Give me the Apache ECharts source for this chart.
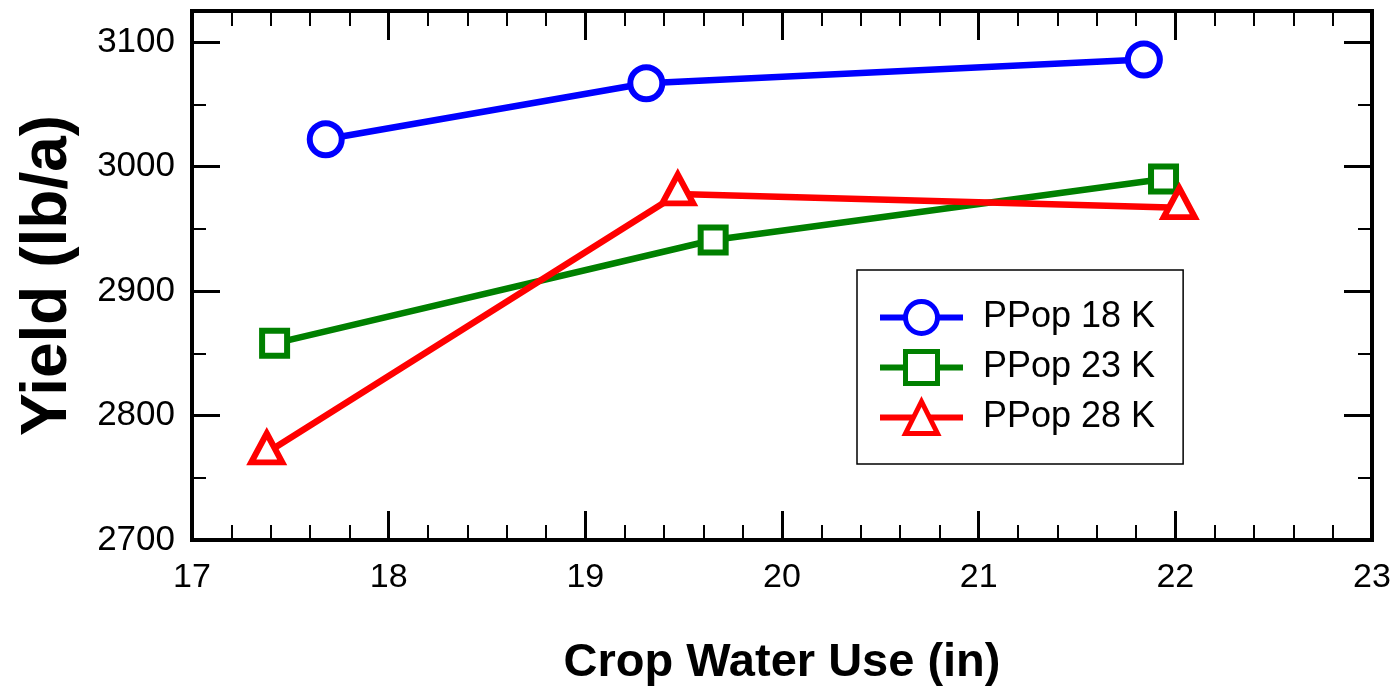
<!DOCTYPE html>
<html>
<head>
<meta charset="utf-8">
<script src="https://cdn.jsdelivr.net/npm/echarts@6/dist/echarts.min.js"></script>
<style>
  html, body { margin: 0; padding: 0; background: #fff; }
  #main { width: 1395px; height: 692px; }
</style>
</head>
<body>
<div id="main"></div>
<script>
// data
var seriesNames = ['PPop 18 K', 'PPop 23 K', 'PPop 28 K'];
var pop18 = [[17.68, 3022], [19.31, 3067], [21.84, 3086]];
var pop23 = [[17.42, 2858], [19.65, 2941], [21.94, 2990]];
var pop28 = [[17.38, 2770], [19.47, 2978], [22.02, 2967]];

var FONT = '"Liberation Sans", Arial, sans-serif';

function mkSeries(name, data, color, symbol, size, offset) {
  return {
    name: name,
    type: 'line',
    data: data,
    symbol: symbol,
    symbolSize: size,
    symbolOffset: offset || [0, 0],
    showAllSymbol: true,
    lineStyle: { color: color, width: 6.5 },
    itemStyle: { color: '#fff', borderColor: color, borderWidth: 6 },
    emphasis: { disabled: true },
    z: 3
  };
}

(function(){
  var opt = {
    animation: false,
    textStyle: { fontFamily: FONT },
    grid: {
      left: 192, right: 23, top: 11, bottom: 149,
      show: true, borderColor: '#000', borderWidth: 4
    },
    legend: {
      orient: 'vertical',
      left: 857, top: 270,
      padding: [29, 28, 28, 20],
      itemWidth: 83, itemHeight: 40, itemGap: 13,
      borderColor: '#000', borderWidth: 1.5,
      backgroundColor: '#fff',
      itemStyle: { borderWidth: 5 },
      lineStyle: { width: 6 },
      data: seriesNames,
      textStyle: { fontSize: 36, color: '#000', fontFamily: FONT, padding: [0, 0, 0, 15] }
    },
    xAxis: [
      {
        type: 'value', min: 17, max: 23, interval: 1,
        position: 'bottom',
        name: 'Crop Water Use (in)', nameLocation: 'middle', nameGap: 100,
        nameTextStyle: { fontSize: 47, fontWeight: 'bold', color: '#000', fontFamily: FONT },
        axisLine: { show: false },
        axisTick: { inside: true, length: 29, lineStyle: { color: '#000', width: 3 } },
        minorTick: { show: true, splitNumber: 5, length: 15, lineStyle: { color: '#000', width: 2 } },
        splitLine: { show: false },
        axisLabel: { fontSize: 34, color: '#000', margin: 21, fontFamily: FONT }
      },
      {
        type: 'value', min: 17, max: 23, interval: 1,
        position: 'top',
        axisLine: { show: false },
        axisTick: { inside: true, length: 29, lineStyle: { color: '#000', width: 3 } },
        minorTick: { show: true, splitNumber: 5, length: 15, lineStyle: { color: '#000', width: 2 } },
        splitLine: { show: false },
        axisLabel: { show: false }
      }
    ],
    yAxis: [
      {
        type: 'value', min: 2700, max: 3125, interval: 100,
        position: 'left',
        name: 'Yield (lb/a)', nameLocation: 'middle', nameGap: 112,
        nameTextStyle: { fontSize: 64, fontWeight: 'bold', color: '#000', fontFamily: FONT },
        axisLine: { show: false },
        axisTick: { inside: true, length: 28, lineStyle: { color: '#000', width: 3 } },
        splitLine: { show: false },
        axisLabel: {
          fontSize: 35, color: '#000', margin: 17, fontFamily: FONT,
          formatter: function (v) { return v % 100 === 0 ? String(v) : ''; }
        }
      },
      {
        type: 'value', min: 2700, max: 3125, interval: 50,
        position: 'left',
        axisLine: { show: false },
        axisTick: { inside: true, length: 14, lineStyle: { color: '#000', width: 2 } },
        splitLine: { show: false },
        axisLabel: { show: false }
      },
      {
        type: 'value', min: 2700, max: 3125, interval: 100,
        position: 'right',
        axisLine: { show: false },
        axisTick: { inside: true, length: 28, lineStyle: { color: '#000', width: 3 } },
        splitLine: { show: false },
        axisLabel: { show: false }
      },
      {
        type: 'value', min: 2700, max: 3125, interval: 50,
        position: 'right',
        axisLine: { show: false },
        axisTick: { inside: true, length: 14, lineStyle: { color: '#000', width: 2 } },
        splitLine: { show: false },
        axisLabel: { show: false }
      }
    ],
    series: [
      mkSeries(seriesNames[0], pop18, '#0000ff', 'circle', 32),
      mkSeries(seriesNames[1], pop23, '#008000', 'rect', 25),
      mkSeries(seriesNames[2], pop28, '#ff0000', 'triangle', [31, 29], [0, -5])
    ]
  };
  var chart = echarts.init(document.getElementById('main'));
  chart.setOption(opt);
})();
</script>
</body>
</html>
